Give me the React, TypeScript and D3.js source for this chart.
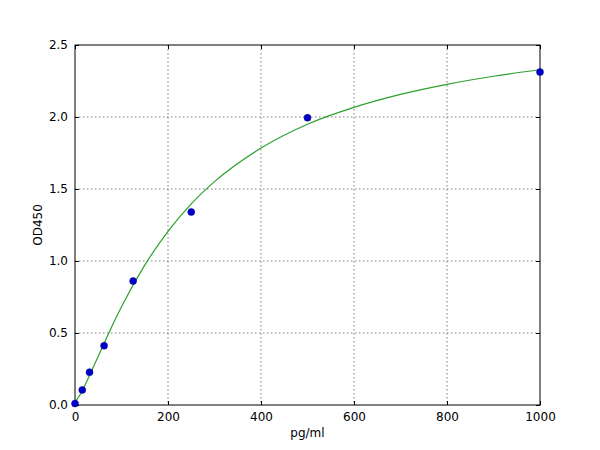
import React, { useEffect, useRef } from "react";
import * as d3 from "d3";

// standards (pg/ml) and measured OD450
const concentrations = [0, 15.6, 31.25, 62.5, 125, 250, 500, 1000];
const odValues = [0.01, 0.105, 0.228, 0.412, 0.861, 1.34, 1.995, 2.312];

// fitted curve
const curveX = [0, 12.5, 25, 50, 75, 100, 150, 200, 250, 300, 400, 500, 600, 700, 800, 900, 1000];
const curveY = [0.02, 0.08, 0.162, 0.339, 0.516, 0.682, 0.971, 1.206, 1.397, 1.551, 1.784, 1.95, 2.067, 2.157, 2.227, 2.283, 2.328];

const xTicks = [0, 200, 400, 600, 800, 1000];
const yTicks = [0, 0.5, 1.0, 1.5, 2.0, 2.5];

const App: React.FC = () => {
  const ref = useRef<SVGSVGElement>(null);

  useEffect(() => {
    if (!ref.current) return;
    const svg = d3.select(ref.current);
    svg.selectAll("*").remove();

    const margin = { top: 45, right: 60, bottom: 45, left: 75 };
    const width = 600 - margin.left - margin.right;
    const height = 450 - margin.top - margin.bottom;

    const x = d3.scaleLinear().domain([0, 1000]).range([0, width]);
    const y = d3.scaleLinear().domain([0, 2.5]).range([height, 0]);

    const g = svg
      .append("g")
      .attr("transform", `translate(${margin.left},${margin.top})`);

    // dotted grid
    g.append("g")
      .selectAll("line")
      .data(xTicks.slice(1, -1))
      .enter()
      .append("line")
      .attr("x1", (d) => x(d))
      .attr("x2", (d) => x(d))
      .attr("y1", 0)
      .attr("y2", height)
      .attr("stroke", "#444")
      .attr("stroke-width", 0.7)
      .attr("stroke-dasharray", "1.5,2.5");
    g.append("g")
      .selectAll("line")
      .data(yTicks.slice(1, -1))
      .enter()
      .append("line")
      .attr("x1", 0)
      .attr("x2", width)
      .attr("y1", (d) => y(d))
      .attr("y2", (d) => y(d))
      .attr("stroke", "#444")
      .attr("stroke-width", 0.7)
      .attr("stroke-dasharray", "1.5,2.5");

    const font = "'DejaVu Sans', sans-serif";

    // axes with inward ticks on all four sides
    const bottom = g
      .append("g")
      .attr("transform", `translate(0,${height})`)
      .call(d3.axisBottom(x).tickValues(xTicks).tickSizeInner(-4).tickSizeOuter(0).tickPadding(7).tickFormat(d3.format("d")));
    const left = g
      .append("g")
      .call(d3.axisLeft(y).tickValues(yTicks).tickSizeInner(-4).tickSizeOuter(0).tickPadding(7).tickFormat(d3.format(".1f")));
    const top = g
      .append("g")
      .call(d3.axisTop(x).tickValues(xTicks).tickSizeInner(-4).tickSizeOuter(0).tickFormat(() => ""));
    const right = g
      .append("g")
      .attr("transform", `translate(${width},0)`)
      .call(d3.axisRight(y).tickValues(yTicks).tickSizeInner(-4).tickSizeOuter(0).tickFormat(() => ""));

    [bottom, left, top, right].forEach((a) => {
      a.select(".domain").remove();
      a.selectAll("line").attr("stroke", "#000");
      a.selectAll("text")
        .attr("fill", "#000")
        .style("font-family", font)
        .style("font-size", "12px");
    });

    g.append("rect")
      .attr("width", width)
      .attr("height", height)
      .attr("fill", "none")
      .attr("stroke", "#000")
      .attr("stroke-width", 1);

    // fitted curve
    const curveData = curveX.map((c, i) => [c, curveY[i]] as [number, number]);
    g.append("path")
      .datum(curveData)
      .attr("fill", "none")
      .attr("stroke", "#2ca02c")
      .attr("stroke-width", 1.2)
      .attr(
        "d",
        d3
          .line<[number, number]>()
          .x((d) => x(d[0]))
          .y((d) => y(d[1]))
          .curve(d3.curveMonotoneX)
      );

    // standard points
    g.selectAll("circle")
      .data(concentrations.map((c, i) => ({ c, v: odValues[i] })))
      .enter()
      .append("circle")
      .attr("cx", (d) => x(d.c))
      .attr("cy", (d) => y(d.v))
      .attr("r", 3.5)
      .attr("fill", "#0000cc")
      .attr("stroke", "#000080")
      .attr("stroke-width", 0.5);

    // axis titles
    svg
      .append("text")
      .attr("x", margin.left + width / 2)
      .attr("y", 437)
      .attr("text-anchor", "middle")
      .style("font-family", font)
      .style("font-size", "12px")
      .text("pg/ml");
    svg
      .append("text")
      .attr("transform", `translate(42,${margin.top + height / 2}) rotate(-90)`)
      .attr("text-anchor", "middle")
      .style("font-family", font)
      .style("font-size", "12px")
      .text("OD450");
  }, []);

  return (
    <svg
      ref={ref}
      width={600}
      height={450}
      style={{ position: "absolute", left: 0, top: 0, background: "#fff" }}
    />
  );
};

export default App;
